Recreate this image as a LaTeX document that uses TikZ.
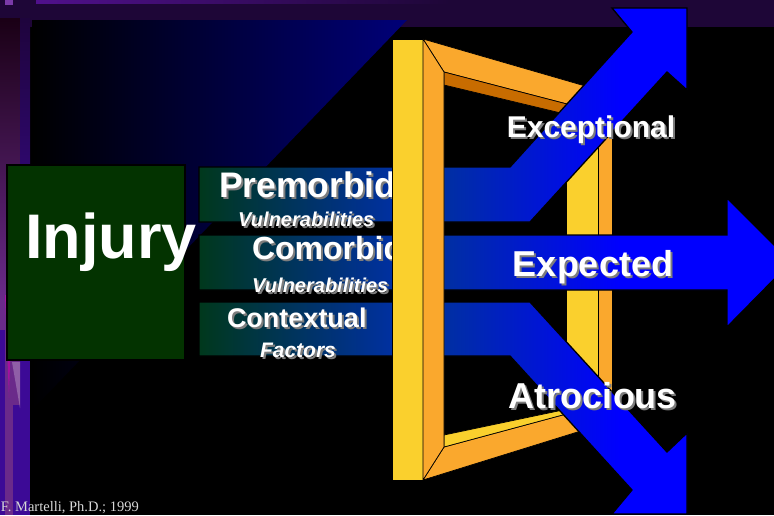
\documentclass[tikz,border=0pt]{standalone}
\usepackage{fontspec}
\setmainfont{Liberation Sans}
\newfontfamily\footfont{Liberation Serif}
\definecolor{bgpurple}{RGB}{30,6,55}
\definecolor{lilac}{RGB}{80,16,140}
\definecolor{lilaclight}{RGB}{122,58,168}
\definecolor{stripdark}{RGB}{26,0,21}
\definecolor{strippurple}{RGB}{106,42,138}
\definecolor{stripindigo}{RGB}{60,10,150}
\definecolor{stripindigotop}{RGB}{30,4,60}
\definecolor{stripmagenta}{RGB}{165,16,160}
\definecolor{navy}{RGB}{0,0,120}
\definecolor{injgreen}{RGB}{3,51,0}
\definecolor{bandgreen}{RGB}{0,56,26}
\definecolor{bandblue}{RGB}{0,48,160}
\definecolor{arrowblue}{RGB}{0,0,255}
\definecolor{fyellow}{RGB}{250,208,45}
\definecolor{forange}{RGB}{250,168,45}
\definecolor{fdark}{RGB}{200,108,0}
\definecolor{shadowgray}{RGB}{125,125,125}
\definecolor{footgray}{RGB}{215,215,215}
\tikzset{
  arrowpath/.style={draw=black, line width=1.3pt, line join=miter},
  framepart/.style={draw=black, line width=0.7pt, line join=round},
  injbox/.style={draw=black, line width=2pt, fill=injgreen, minimum width=178pt, minimum height=195pt, inner sep=0pt},
  lblbase/.style={inner sep=0pt, outer sep=0pt, text=white},
  injword/.style={lblbase, font=\fontsize{63}{70}\selectfont\bfseries},
  wordA/.style={lblbase, font=\fontsize{35.5}{40}\selectfont\bfseries},
  wordB/.style={lblbase, font=\fontsize{32}{38}\selectfont\bfseries},
  wordC/.style={lblbase, font=\fontsize{27}{32}\selectfont\bfseries},
  subword/.style={lblbase, font=\fontsize{20}{24}\selectfont\bfseries\itshape},
  subwordF/.style={lblbase, font=\fontsize{21}{24}\selectfont\bfseries\itshape},
  outA/.style={lblbase, font=\fontsize{30}{36}\selectfont\bfseries},
  outB/.style={lblbase, font=\fontsize{36}{42}\selectfont\bfseries},
  footword/.style={lblbase, text=footgray, font=\footfont\fontsize{14.5}{16}\selectfont},
}
% white text with a grey drop shadow, in one node
\newcommand\shadowed[1]{\rlap{\kern2pt\raisebox{-2pt}{\textcolor{shadowgray}{#1}}}#1}
\newcommand\bandshading{%
  \shade[left color=bandgreen, right color=bandblue] (196,0) rectangle (392,515);
  \fill[bandblue] (391,0) rectangle (441,515);
  \shade[left color=bandblue, right color=arrowblue] (440,0) rectangle (620,515);
  \fill[arrowblue] (619,0) rectangle (800,515);
}
\begin{document}
\begin{tikzpicture}[x=1pt,y=-1pt]
\useasboundingbox (0,0) rectangle (774,515);
% background
\fill[black] (0,0) rectangle (774,515);
\fill[bgpurple] (0,0) rectangle (774,27);
\shade[left color=lilac, right color=bgpurple] (36,0) rectangle (450,3);
\fill[lilaclight] (5,0) rectangle (13,5);
% left strip
\shade[top color=stripdark, bottom color=strippurple] (0,18) rectangle (20,300);
\fill[strippurple] (0,299) rectangle (20,515);
\shade[top color=stripindigotop, bottom color=stripindigo] (20,18) rectangle (30,300);
\fill[stripindigo] (20,299) rectangle (30,515);
\fill[stripindigo] (0,330) rectangle (5,515);
\fill[stripindigo] (13,405) rectangle (20,515);
\fill[stripmagenta] (5,295) -- (12,295) -- (9,398) -- cycle;
\fill[strippurple!75!white] (12,362) -- (20,362) -- (20,408) -- cycle;
% navy triangle
\shade[left color=black, right color=navy] (32,20) -- (407,20) -- (32,410) -- cycle;
% Injury box
\node[injbox] (injury) at (96,262.5) {};
\node[injword, anchor=base] (injlabel) at (111,258) {Injury};
% frame: back parts
\filldraw[framepart, fill=fyellow] (566,120) rectangle (598,405);
\filldraw[framepart, fill=forange] (598,120) rectangle (612,405);
\filldraw[framepart, fill=forange] (423,39) -- (600,90.3) -- (600,112.6) -- (444,72) -- cycle;
\filldraw[framepart, fill=fdark] (444,72) -- (600,112.6) -- (600,122.4) -- (444,85) -- cycle;
\filldraw[framepart, fill=forange] (423,480) -- (444,447) -- (600,404.9) -- (600,425) -- cycle;
\filldraw[framepart, fill=fyellow] (444,447) -- (444,435) -- (600,402.2) -- (600,404.9) -- cycle;
% arrow coordinates
\coordinate (E1) at (199,167); \coordinate (E2) at (510,167);
\coordinate (E3) at (632,32);  \coordinate (E4) at (612,8);
\coordinate (E5) at (687,8);   \coordinate (E6) at (687,90);
\coordinate (E7) at (667,72);  \coordinate (E8) at (530,222);
\coordinate (E9) at (199,222);
\coordinate (X1) at (199,235); \coordinate (X2) at (727,235);
\coordinate (X3) at (727,198); \coordinate (X4) at (791,262);
\coordinate (X5) at (727,327); \coordinate (X6) at (727,290);
\coordinate (X7) at (199,290);
\coordinate (A1) at (199,302); \coordinate (A2) at (530,302);
\coordinate (A3) at (667,452); \coordinate (A4) at (687,433);
\coordinate (A5) at (687,514); \coordinate (A6) at (612,514);
\coordinate (A7) at (632,490); \coordinate (A8) at (510,356);
\coordinate (A9) at (199,356);
% Exceptional
\begin{scope}
  \clip (E1) -- (E2) -- (E3) -- (E4) -- (E5) -- (E6) -- (E7) -- (E8) -- (E9) -- cycle;
  \bandshading
\end{scope}
\draw[arrowpath] (E1) -- (E2) -- (E3) -- (E4) -- (E5) -- (E6) -- (E7) -- (E8) -- (E9) -- cycle;
% Expected
\begin{scope}
  \clip (X1) -- (X2) -- (X3) -- (X4) -- (X5) -- (X6) -- (X7) -- cycle;
  \bandshading
\end{scope}
\draw[arrowpath] (X1) -- (X2) -- (X3) -- (X4) -- (X5) -- (X6) -- (X7) -- cycle;
% Atrocious
\begin{scope}
  \clip (A1) -- (A2) -- (A3) -- (A4) -- (A5) -- (A6) -- (A7) -- (A8) -- (A9) -- cycle;
  \bandshading
\end{scope}
\draw[arrowpath] (A1) -- (A2) -- (A3) -- (A4) -- (A5) -- (A6) -- (A7) -- (A8) -- (A9) -- cycle;
% band texts
\node[wordA, anchor=base west] (premorbid) at (219,197) {\shadowed{Premorbid}};
\node[subword, anchor=base west] (vuln1) at (238,226) {\shadowed{Vulnerabilities}};
\node[wordB, anchor=base west] (comorbid) at (252,259) {\shadowed{Comorbid}};
\node[subword, anchor=base west] (vuln2) at (252,292) {\shadowed{Vulnerabilities}};
\node[wordC, anchor=base west] (contextual) at (227,327) {\shadowed{Contextual}};
\node[subwordF, anchor=base west] (factors) at (260,357) {\shadowed{Factors}};
% frame: front left bar
\filldraw[framepart, fill=fyellow] (392,39) rectangle (423,480);
\filldraw[framepart, fill=forange] (423,39) -- (444,72) -- (444,447) -- (423,480) -- cycle;
% outcome texts
\node[outA, anchor=base] (exceptional) at (591,137) {\shadowed{Exceptional}};
\node[outB, anchor=base] (expected) at (593,276) {\shadowed{Expected}};
\node[outB, anchor=base] (atrocious) at (593,408) {\shadowed{Atrocious}};
% footer
\node[footword, anchor=base west] (credit) at (1,511) {F. Martelli, Ph.D.; 1999};
\end{tikzpicture}
\end{document}
